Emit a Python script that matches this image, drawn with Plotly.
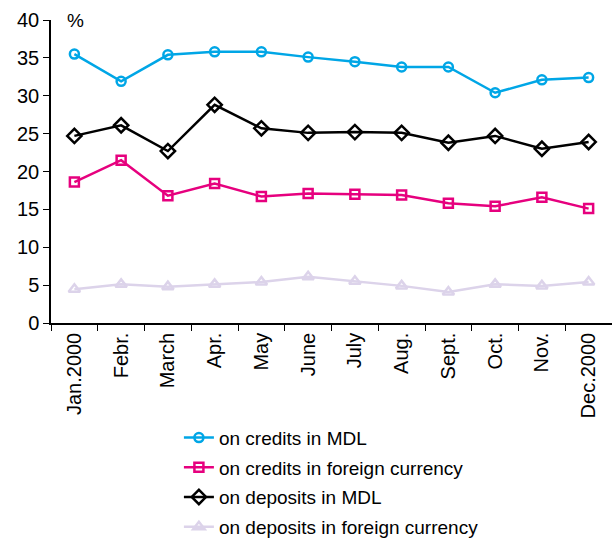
import plotly.graph_objects as go

months = ["Jan.2000", "Febr.", "March", "Apr.", "May", "June", "July", "Aug.", "Sept.", "Oct.", "Nov.", "Dec.2000"]
credits_mdl = [35.5, 31.9, 35.4, 35.8, 35.8, 35.1, 34.5, 33.8, 33.8, 30.4, 32.1, 32.4]
credits_fx = [18.6, 21.5, 16.8, 18.4, 16.7, 17.1, 17.0, 16.9, 15.8, 15.4, 16.6, 15.1]
deposits_mdl = [24.7, 26.1, 22.7, 28.8, 25.7, 25.1, 25.2, 25.1, 23.8, 24.7, 23.0, 23.9]
deposits_fx = [4.45, 5.1, 4.8, 5.1, 5.4, 6.1, 5.5, 4.9, 4.1, 5.1, 4.9, 5.4]

series = [
    ("on credits in MDL", credits_mdl, "#00A6E6", "circle-open", 9),
    ("on credits in foreign currency", credits_fx, "#E6007E", "square-open", 9),
    ("on deposits in MDL", deposits_mdl, "#000000", "diamond-open", 11),
    ("on deposits in foreign currency", deposits_fx, "#DCD3EA", "triangle-up-open", 10),
]

fig = go.Figure()
for i, (name, vals, color, sym, sz) in enumerate(series):
    fig.add_trace(go.Scatter(
        x=months, y=vals, name=name, mode="lines+markers", legendgroup=f"g{i}",
        line=dict(color=color, width=2.5),
        marker=dict(symbol=sym, size=sz, color=color, line=dict(width=2.5, color=color)),
    ))

font = dict(family="Liberation Sans, Arial, sans-serif", size=20, color="#000000")

fig.update_layout(
    width=612, height=541,
    margin=dict(l=51, r=0, t=20, b=218),
    paper_bgcolor="white", plot_bgcolor="white",
    font=font,
    showlegend=True,
    legend=dict(x=0.228, y=0.226, xref="paper", yref="container",
                xanchor="left", yanchor="top",
                orientation="v", font=dict(size=19), bgcolor="rgba(0,0,0,0)",
                tracegroupgap=2),
    xaxis=dict(
        type="category", showline=True, linecolor="#000", linewidth=1.5,
        ticks="outside", ticklen=6, tickcolor="#000", tickwidth=1.2,
        tickson="boundaries", tickangle=-90, showgrid=False, zeroline=False,
        tickfont=dict(size=20), range=[-0.5, 11.5], automargin=False,
    ),
    yaxis=dict(
        range=[0, 40], dtick=5, showline=True, linecolor="#000", linewidth=1.5,
        ticks="outside", ticklen=6, tickcolor="#000", tickwidth=1.2,
        showgrid=False, zeroline=False, tickfont=dict(size=20), automargin=False,
    ),
    annotations=[dict(text="%", xref="paper", yref="paper", x=0.025, y=1.0,
                      xanchor="left", yanchor="middle", showarrow=False,
                      font=dict(size=19))],
)

fig.write_html("out.html")
